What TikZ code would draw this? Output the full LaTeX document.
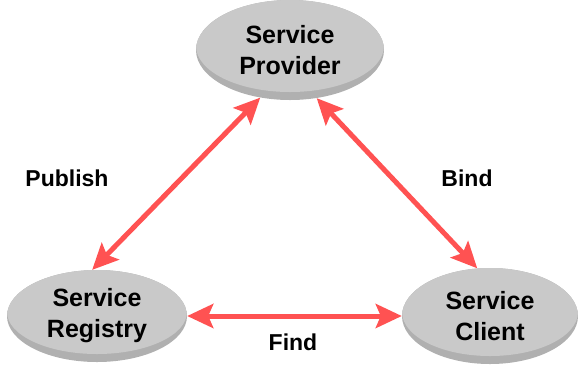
\documentclass[tikz,border=0pt]{standalone}
\usepackage{fontspec}
\setmainfont{Liberation Sans}
\usetikzlibrary{shapes.geometric,arrows.meta,calc}
\definecolor{facegray}{RGB}{201,201,201}
\definecolor{rimgray}{RGB}{176,176,176}
\definecolor{linkred}{RGB}{255,82,82}
\begin{document}
\begin{tikzpicture}[x=1pt,y=-1pt,
		disc/.style={ellipse,inner sep=0pt,fill=rimgray,align=center,
			font=\fontsize{25}{31}\selectfont\bfseries,
			path picture={\fill[facegray] let \p1=($(path picture bounding box.north east)-(path picture bounding box.center)$) in ([yshift=4pt]path picture bounding box.center) ellipse [x radius=\x1, y radius=\y1-4pt];}},
		link/.style={linkred,line width=5pt,{Stealth[length=26pt,width=24pt,inset=5pt]}-{Stealth[length=26pt,width=24pt,inset=5pt]}},
		tag/.style={font=\fontsize{23}{28}\selectfont\bfseries}]
			\useasboundingbox (0,0) rectangle (580,368);
			\node[disc,minimum width=188pt,minimum height=100pt] (provider) at (290,50) {Service\\Provider};
			\node[disc,minimum width=180pt,minimum height=92pt] (registry) at (97,316) {Service\\Registry};
			\node[disc,minimum width=176pt,minimum height=96pt] (client) at (490,316) {Service\\Client};
			\draw[link] (provider.238) -- (registry.96);
			\draw[link] (provider.299) -- (client.105);
			\draw[link] (registry.east) -- (client.west);
			\node[tag] (publish) at (67,178) {Publish};
			\node[tag] (bind) at (467,178) {Bind};
			\node[tag] (find) at (293,342) {Find};
		\end{tikzpicture}
\end{document}
